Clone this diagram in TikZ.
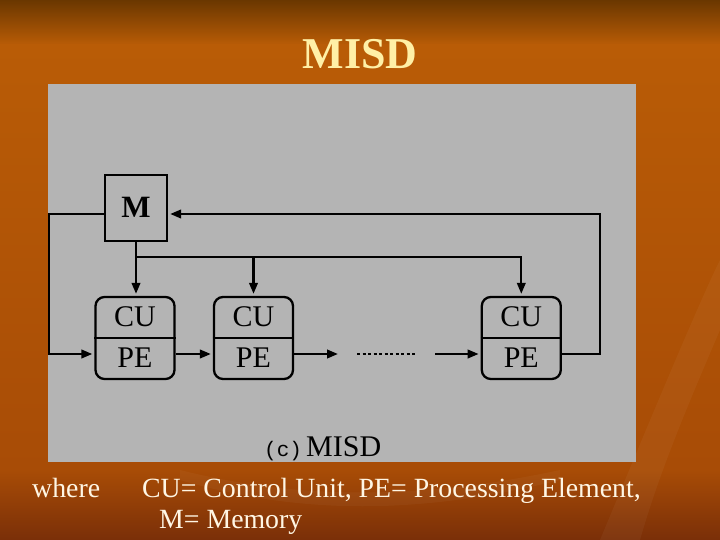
\documentclass[tikz,border=0pt]{standalone}
\usepackage{fontspec}
\setmainfont{Liberation Serif}
\newfontfamily\monof{Liberation Mono}
\usetikzlibrary{arrows.meta}
\definecolor{panel}{HTML}{B4B4B4}
\definecolor{titlecol}{HTML}{FFF0A6}
\definecolor{bodycol}{HTML}{FFF6E4}
\definecolor{bgtop}{HTML}{6A3700}
\definecolor{bgmid}{HTML}{B95C06}
\definecolor{bgmid2}{HTML}{A84C06}
\definecolor{bgbot}{HTML}{7A2F08}
\tikzset{
  line/.style={line width=2.3pt, black},
  arr/.style={line, -{Triangle[length=11pt,width=8.5pt]}, shorten >=2pt},
  cell/.style={draw, line width=2.3pt, rounded corners=9pt, minimum width=79pt, minimum height=82pt, inner sep=0pt},
  mbox/.style={draw, line width=2.3pt, minimum width=62pt, minimum height=66pt, inner sep=0pt,
    font=\fontsize{31}{31}\selectfont\bfseries, text height=20pt, text depth=0pt},
  lbl/.style={inner sep=0pt, font=\fontsize{30}{30}\selectfont, text height=20pt, text depth=0pt},
  body/.style={inner sep=0pt, anchor=base west, text=bodycol, font=\fontsize{27.8}{27.8}\selectfont},
}
\begin{document}
\begin{tikzpicture}[x=1pt,y=-1pt]
\useasboundingbox (0,0) rectangle (720,540);
% background
\shade[top color=bgtop, bottom color=bgmid] (0,0) rectangle (720,45);
\shade[top color=bgmid, bottom color=bgmid2] (0,45) rectangle (720,470);
\shade[top color=bgmid2, bottom color=bgbot] (0,470) rectangle (720,540);
\fill[white, opacity=0.04] (600,540) .. controls (650,420) and (700,300) .. (720,260) -- (720,330) .. controls (690,400) and (660,470) .. (640,540) -- cycle;
\fill[white, opacity=0.035] (180,470) .. controls (300,500) and (420,500) .. (560,470) -- (560,480) .. controls (420,515) and (300,515) .. (180,480) -- cycle;
% title
\node[anchor=base, inner sep=0pt, text=titlecol, font=\fontsize{44}{44}\selectfont\bfseries] (title) at (360,69) {MISD};
% panel
\fill[panel] (48,84) rectangle (636,462);
% nodes
\node[mbox] (M) at (136,208) {M};
\node[cell] (b1) at (135,338) {};
\node[cell] (b2) at (253.5,338) {};
\node[cell] (b3) at (521.3,338) {};
\node[lbl] (cu1) at (135,316.7) {CU};
\node[lbl] (pe1) at (135,357) {PE};
\node[lbl] (cu2) at (253.5,316.7) {CU};
\node[lbl] (pe2) at (253.5,357) {PE};
\node[lbl] (cu3) at (521.3,316.7) {CU};
\node[lbl] (pe3) at (521.3,357) {PE};
\foreach \b in {b1,b2,b3} \draw[line] (\b.west) -- (\b.east);
% helper coordinates
\coordinate (fb) at (0,214);
\coordinate (row) at (0,354);
\coordinate (bus) at (0,257);
\coordinate (lft) at (49,0);
\coordinate (rgt) at (600,0);
\coordinate (d0) at (340,354);
\coordinate (d1) at (357,354);
\coordinate (d2) at (417,354);
\coordinate (d3) at (435,354);
% connectors
\draw[arr] (M.west |- fb) -- (lft |- fb) -- (lft |- row) -- (b1.west |- row);
\draw[arr] (b3.east |- row) -- (rgt |- row) -- (rgt |- fb) -- (M.east |- fb);
\draw[arr] (M.south) -- (M.south |- b1.north);
\draw[arr] (M.south |- bus) -| (b3.north);
\draw[arr] (b2.north |- bus) -- (b2.north);
\draw[arr] (b1.east |- row) -- (b2.west |- row);
\draw[arr] (b2.east |- row) -- (d0);
\draw[line, line width=1.8pt, dash pattern=on 3pt off 2.5pt] (d1) -- (d2);
\draw[arr] (d3) -- (b3.west |- row);
% caption
\node[anchor=base west, inner sep=0pt, font=\monof\fontsize{21}{21}\selectfont] (cap1) at (264,456) {(c)};
\node[anchor=base west, inner sep=0pt, font=\fontsize{30}{30}\selectfont] (cap2) at (306,456) {MISD};
% bottom text
\node[body] (where) at (32,497) {where};
\node[body] (def1) at (142,497) {CU= Control Unit, PE= Processing Element,};
\node[body] (def2) at (159,528) {M= Memory};
\end{tikzpicture}
\end{document}
